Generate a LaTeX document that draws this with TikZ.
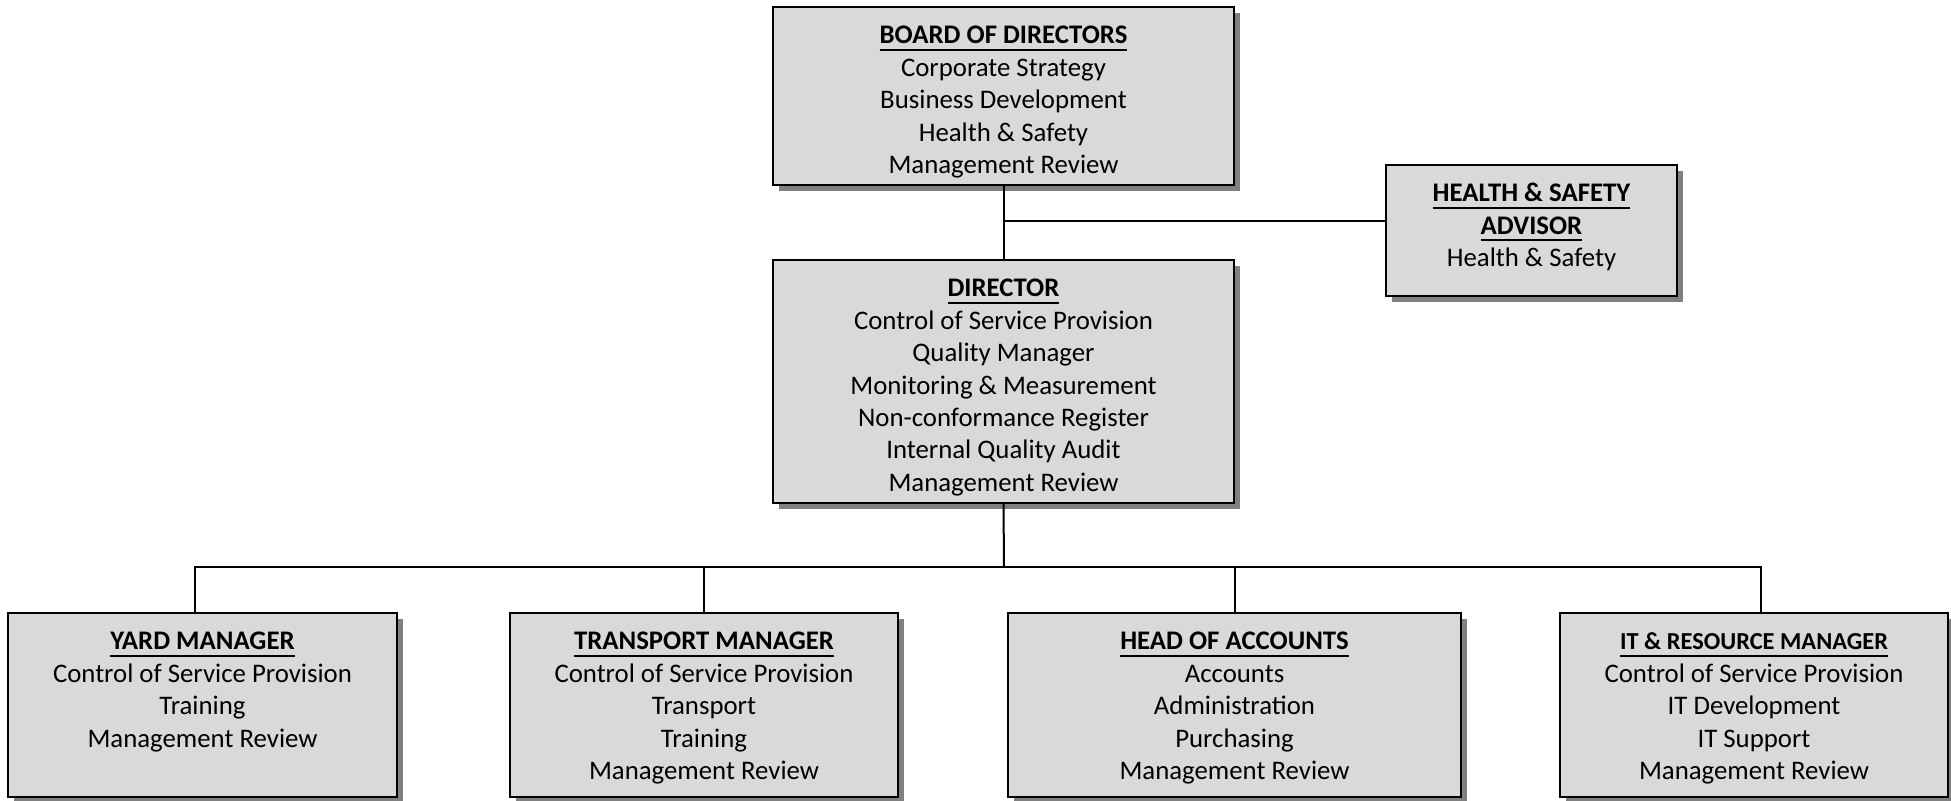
\documentclass[tikz,border=0pt]{standalone}
\usepackage{fontspec}
\setmainfont{Carlito}
\usetikzlibrary{shadows}

\definecolor{boxgray}{HTML}{D9D9D9}
\definecolor{shadowgray}{HTML}{808080}

\newcommand{\rolehead}[1]{\leavevmode\setbox0\hbox{\bfseries #1}\rlap{\rule[-3.5pt]{\wd0}{1pt}}\box0}
\newcommand{\roletext}[3]{\parbox[c][#2][t]{#1}{\centering\fontsize{13.4pt}{16.2pt}\selectfont\rule{0pt}{18.4pt}#3}}

\tikzset{
	rolebox/.style={draw, line width=1pt, fill=boxgray, inner sep=0pt, outer sep=0pt,
		drop shadow={shadow xshift=3pt, shadow yshift=-3pt, fill=shadowgray, opacity=1}},
	link/.style={line width=1pt}
}

\begin{document}
\begin{tikzpicture}[x=0.5pt,y=-0.5pt]
		\useasboundingbox (0,0) rectangle (1951,800);
		\node[rolebox] (board) at (1003.5,96) {\roletext{230.5pt}{89pt}{\rolehead{BOARD OF DIRECTORS}\\Corporate Strategy\\Business Development\\Health \& Safety\\Management Review}};
		\node[rolebox] (director) at (1003.5,381.5) {\roletext{230.5pt}{121.5pt}{\rolehead{DIRECTOR}\\Control of Service Provision\\Quality Manager\\Monitoring \& Measurement\\Non-conformance Register\\Internal Quality Audit\\Management Review}};
		\node[rolebox] (advisor) at (1531.5,230.5) {\roletext{145.5pt}{65.5pt}{\rolehead{HEALTH \& SAFETY}\\\rolehead{ADVISOR}\\Health \& Safety}};
		\node[rolebox] (yard) at (202.5,705) {\roletext{194.5pt}{92pt}{\rolehead{YARD MANAGER}\\Control of Service Provision\\Training\\Management Review}};
		\node[rolebox] (transport) at (704,705) {\roletext{194pt}{92pt}{\rolehead{TRANSPORT MANAGER}\\Control of Service Provision\\Transport\\Training\\Management Review}};
		\node[rolebox] (accounts) at (1234.5,705) {\roletext{226.5pt}{92pt}{\rolehead{HEAD OF ACCOUNTS}\\Accounts\\Administration\\Purchasing\\Management Review}};
		\node[rolebox] (itres) at (1754,705) {\roletext{194pt}{92pt}{{\fontsize{12.2pt}{16.2pt}\selectfont\rolehead{IT \& RESOURCE MANAGER}}\\Control of Service Provision\\IT Development\\IT Support\\Management Review}};
		\coordinate (advjoin) at (1004,221);
		\coordinate (bus) at (1004,567);
		\draw[link] (board.south) -- (director.north);
		\draw[link] (advjoin) -- (advjoin -| advisor.west);
		\draw[link] (director.south) -- (bus);
		\draw[link] ([xshift=-3.75pt]yard.north) |- (bus) -| ([xshift=3.5pt]itres.north);
		\draw[link] (transport.north) -- (transport.north |- bus);
		\draw[link] (accounts.north) -- (accounts.north |- bus);
	\end{tikzpicture}
\end{document}
